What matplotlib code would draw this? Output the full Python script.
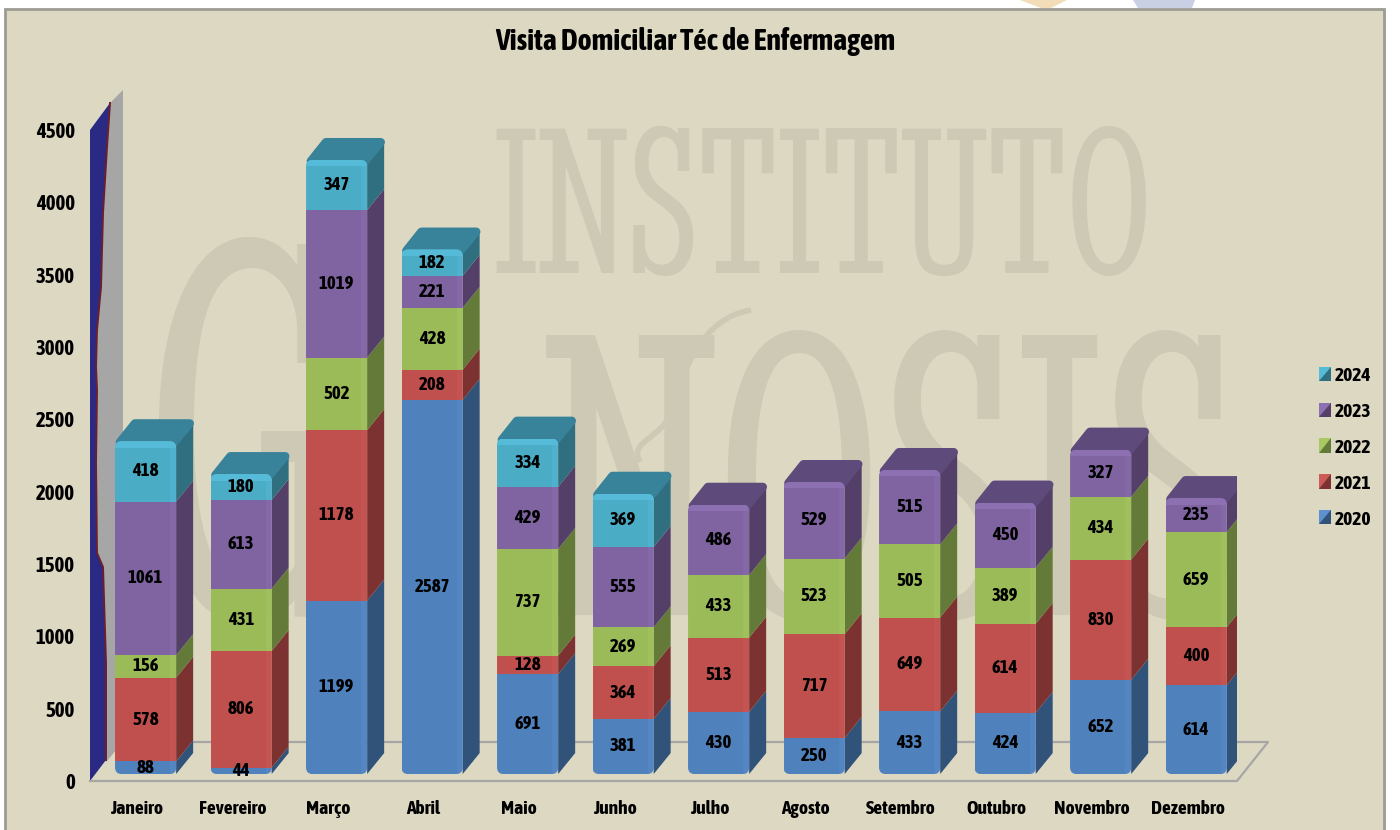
import numpy as np
import matplotlib
matplotlib.use("Agg")
import matplotlib.pyplot as plt
from matplotlib.legend_handler import HandlerBase
from matplotlib.patches import PathPatch, Polygon, Rectangle, FancyBboxPatch
from matplotlib.path import Path

months = ["Janeiro", "Fevereiro", "Março", "Abril", "Maio", "Junho", "Julho",
          "Agosto", "Setembro", "Outubro", "Novembro", "Dezembro"]
years = ["2020", "2021", "2022", "2023", "2024"]

v2020 = [88, 44, 1199, 2587, 691, 381, 430, 250, 433, 424, 652, 614]
v2021 = [578, 806, 1178, 208, 128, 364, 513, 717, 649, 614, 830, 400]
v2022 = [156, 431, 502, 428, 737, 269, 433, 523, 505, 389, 434, 659]
v2023 = [1061, 613, 1019, 221, 429, 555, 486, 529, 515, 450, 327, 235]
v2024 = [418, 180, 347, 182, 334, 369, 0, 0, 0, 0, 0, 0]
series = [v2020, v2021, v2022, v2023, v2024]

front_colors = ["#4F81BD", "#C0504D", "#9BBB59", "#8064A2", "#4BACC6"]
side_colors = ["#325379", "#7B3230", "#647A38", "#533F68", "#2F6F80"]
top_colors = ["#3A6595", "#8F3C3A", "#76903F", "#5F4A7C", "#38839A"]
light_colors = ["#5C90CE", "#CC5B58", "#A8C964", "#8D70B2", "#56BBD8"]

BG = "#DDD8C2"
MARK = "#CDC9B4"
FONT = ["Asap Condensed", "Lato"]
SERIF = ["Stint Ultra Condensed", "Liberation Serif"]

# bars stand a bit behind the front of the floor
LIFT = 48
SHIFT = 0.09
WIDTH = 0.64
DX = 0.178
DY = 145


class BevelHandler(HandlerBase):
    def create_artists(self, legend, orig, xd, yd, w, h, fontsize, trans):
        base = Rectangle((xd, yd), w, h, fc=orig.get_edgecolor(), ec="none", transform=trans)
        lit = Polygon([(xd, yd), (xd, yd + h), (xd + w, yd + h)], fc=orig.get_facecolor(),
                      ec="none", transform=trans)
        return [base, lit]


fig = plt.figure(figsize=(14, 8.3), dpi=100, facecolor="white")

# backdrop in pixel coordinates
bg = fig.add_axes([0, 0, 1, 1])
bg.set_xlim(0, 1400)
bg.set_ylim(830, 0)
bg.axis("off")

bg.add_patch(Polygon([(1020, 0), (1067, 0), (1051, 8), (1041, 8)], fc="#F2DDB8", ec="none"))
bg.add_patch(Polygon([(1133, 0), (1195, 0), (1192, 8), (1138, 8)], fc="#C9D0E4", ec="none"))
bg.add_patch(Rectangle((5, 9), 1379, 830, fc=BG, ec="#9C9C94", lw=2))

# faint logo behind the chart
bg.text(823, 221, "INSTITUTO", family=SERIF, fontsize=155, color=MARK, ha="center", va="center")
bg.text(251, 484, "G", family=SERIF, fontsize=400, color=MARK, ha="center", va="center")
bg.text(890, 515, "NOSIS", family=SERIF, fontsize=300, color=MARK, ha="center", va="center")
swoosh = Path([(751, 310), (700, 318), (682, 375), (672, 410), (662, 440), (628, 440), (640, 462)],
              [Path.MOVETO, Path.CURVE4, Path.CURVE4, Path.CURVE4, Path.CURVE4, Path.CURVE4, Path.CURVE4])
bg.add_patch(PathPatch(swoosh, fc="none", ec=MARK, lw=4))

# floor
bg.plot([90, 1237, 1268, 123], [781, 781, 742, 742], color="#A6A6A6", lw=1.6)

# left wall
edge_x = [110, 107, 103, 101, 97, 96, 97, 96, 97, 103, 106, 106]
edge_y = [103, 147, 213, 287, 330, 367, 390, 463, 553, 567, 663, 760]
bg.add_patch(Polygon([(123, 90), (123, 742), (106, 762)] + list(zip(edge_x, edge_y))[::-1],
                     fc="#A6A6A6", ec="none"))
bg.add_patch(Polygon([(90, 130)] + list(zip(edge_x, edge_y)) + [(90, 781)], fc="#2A2A85", ec="none"))
bg.plot(edge_x, edge_y, color="#6B1F2E", lw=1.4)

ax = fig.add_axes([90 / 1400, (830 - 781) / 830, (1237 - 90) / 1400, (781 - 130) / 830])
ax.patch.set_alpha(0)
x = np.arange(len(months))
ax.set_xlim(-0.492, 11.518)
ax.set_ylim(0, 4500)

px_ratio = 95.5 / 0.1447
xs = x + SHIFT
bottom = np.full(len(months), float(LIFT))
fronts = [[] for _ in months]
top_series = [max(k for k in range(len(series)) if series[k][i] > 0) for i in range(len(months))]

for s, values in enumerate(series):
    values = np.array(values, dtype=float)
    bars = ax.bar(xs, values, WIDTH, bottom=bottom, color=front_colors[s], zorder=3)
    labels = [str(int(v)) if v > 0 else "" for v in values]
    ax.bar_label(bars, labels=labels, label_type="center", family=FONT, fontweight="bold",
                 fontsize=13.5, color="black", zorder=8)
    for i, v in enumerate(values):
        if v == 0:
            continue
        right = xs[i] + WIDTH / 2
        y0, y1 = bottom[i], bottom[i] + v
        up = y1 + DY - (18 if s == top_series[i] else 0)
        ax.add_patch(Polygon([(right, y0), (right + DX, y0 + DY), (right + DX, up), (right, y1)],
                             fc=side_colors[s], ec="none", zorder=2))
        # soft bevel down the right of the front
        fronts[i].append(bars[i])
        fronts[i].append(ax.add_patch(Rectangle((right - 0.06, y0), 0.06, v, fc=light_colors[s],
                                                ec="none", alpha=0.4, zorder=4)))
    bottom = bottom + values

# rounded front and cap on every stack
for i in range(len(months)):
    s = top_series[i]
    left = xs[i] - WIDTH / 2
    right = xs[i] + WIDTH / 2
    top = bottom[i]
    ax.add_patch(Polygon([(left + 0.05, top - 8), (right - 0.02, top - 8),
                          (right + DX - 0.035, top + DY - 22), (left + DX + 0.03, top + DY - 22)],
                         fc=top_colors[s], ec=top_colors[s], lw=6, joinstyle="round", zorder=2.5))
    outline = FancyBboxPatch((left, LIFT), WIDTH, top - LIFT, boxstyle="round,pad=0,rounding_size=0.07",
                             mutation_aspect=px_ratio, transform=ax.transData, fc="none", ec="none")
    ax.add_patch(outline)
    strip = ax.add_patch(Rectangle((left, top - 45), WIDTH, 45, fc=light_colors[s], ec="none", zorder=5))
    for art in fronts[i] + [strip]:
        art.set_clip_path(outline)

ax.set_xticks(x, months)
ax.set_yticks(np.arange(0, 4501, 500))
for spine in ax.spines.values():
    spine.set_visible(False)
ax.tick_params(length=0)
ax.tick_params(axis="x", pad=14)
ax.tick_params(axis="y", pad=11)
for t in ax.get_xticklabels() + ax.get_yticklabels():
    t.set_family(FONT)
    t.set_fontweight("bold")
    t.set_fontsize(14)
    t.set_color("black")
for t in ax.get_yticklabels():
    t.set_fontsize(15)

fig.text(695 / 1400, 1 - 42 / 830, "Visita Domiciliar Téc de Enfermagem", family=FONT,
         fontweight="bold", fontsize=21.5, ha="center", va="center", color="black")

handles = [Rectangle((0, 0), 1, 1, fc=light_colors[s], ec=side_colors[s]) for s in range(len(years))][::-1]
ax.legend(handles, years[::-1], loc="center left", bbox_to_anchor=(1.0715, 0.5115), frameon=False,
          handler_map={Rectangle: BevelHandler()}, borderaxespad=0, borderpad=0,
          handlelength=0.62, handleheight=0.75, handletextpad=0.2, labelspacing=0.92,
          prop={"family": FONT, "weight": "bold", "size": 14})

fig.savefig("out.png", dpi=100)
